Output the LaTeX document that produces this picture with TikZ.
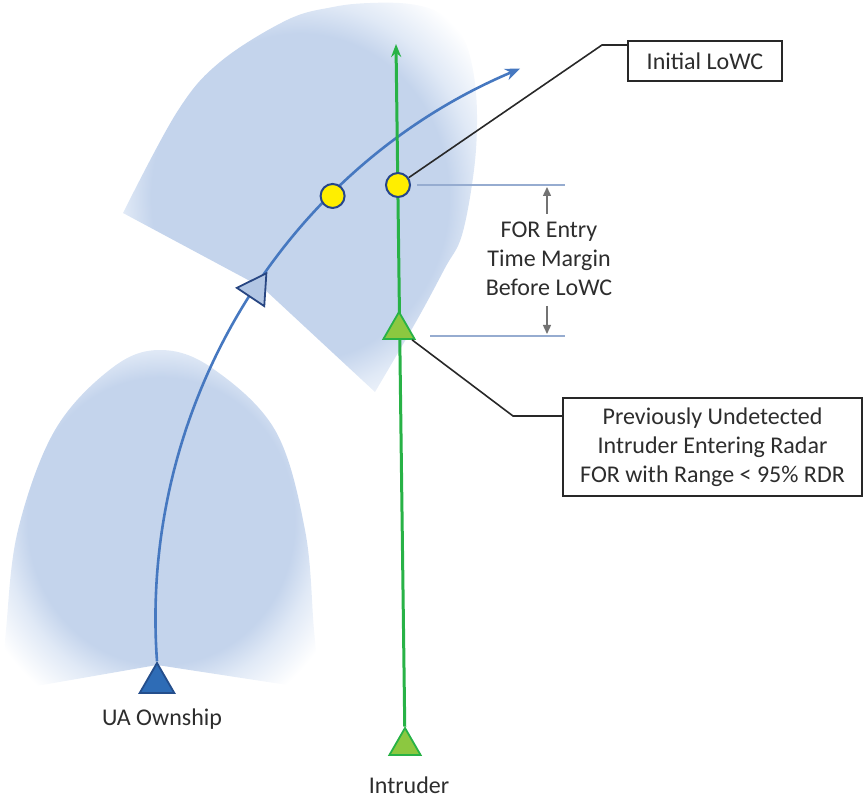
\documentclass[tikz,border=0pt]{standalone}
\usepackage{fontspec}
\setmainfont{Carlito}
\usetikzlibrary{shapes.geometric,arrows.meta,calc}
\definecolor{domein}{RGB}{196,212,236}
\definecolor{domeout}{RGB}{224,233,246}
\definecolor{trackblue}{RGB}{70,120,192}
\definecolor{owntrifill}{RGB}{46,108,182}
\definecolor{owntridraw}{RGB}{36,78,140}
\definecolor{hollowfill}{RGB}{178,198,228}
\definecolor{hollowdraw}{RGB}{40,70,130}
\definecolor{intgreen}{RGB}{40,178,70}
\definecolor{gtrifill}{RGB}{140,200,64}
\definecolor{ylw}{RGB}{255,238,0}
\definecolor{ylwdraw}{RGB}{38,70,140}
\definecolor{dimcol}{RGB}{150,172,208}
\definecolor{arrgray}{RGB}{115,115,115}
\definecolor{txt}{RGB}{45,45,45}
\definecolor{leadcol}{RGB}{40,40,40}
\pgfdeclareradialshading{domeshade}{\pgfpoint{0bp}{0bp}}{color(0bp)=(domein); color(21bp)=(domein); color(25bp)=(domeout); color(31bp)=(white); color(50bp)=(white)}
\pgfdeclarelayer{bgzero}
\pgfdeclarelayer{bgone}
\pgfsetlayers{bgzero,bgone,main}
\tikzset{
  tri/.style={regular polygon, regular polygon sides=3, inner sep=0pt, line width=1.8pt},
  ptc/.style={circle, minimum size=24pt, inner sep=0pt, fill=ylw, draw=ylwdraw, line width=2pt},
  lbl/.style={font=\fontsize{24}{29}\selectfont, text=txt, align=center},
  callout/.style={lbl, draw=leadcol, line width=2.2pt, fill=white},
  leaderline/.style={draw=leadcol, line width=1.6pt},
  dimline/.style={draw=dimcol, line width=1.6pt},
  dimarrow/.style={draw=arrgray, line width=1.4pt, -{Triangle[length=9pt,width=8pt]}},
  dome/.style={shading=domeshade},
}
\begin{document}
\begin{tikzpicture}[x=1pt,y=-1pt]
\useasboundingbox (0,0) rectangle (865,799);

% radar fields of regard
\begin{pgfonlayer}{bgzero}
  \shade[dome] (157,665) -- (2,692) -- plot[smooth, tension=0.6] coordinates {(2,692) (6,630) (18,530) (55,430) (112,368) (160,350) (212,368) (275,430) (305,530) (314,630) (320,690)} -- cycle;
  \shade[dome] (263,288) -- (123,213) -- plot[smooth, tension=0.6] coordinates {(123,213) (177,112) (220,62) (287,20) (333,7) (370,3) (410,4) (440,13) (462,35) (473,70) (477,115) (474,170) (462,235) (445,268) (417,320) (375,392)} -- cycle;
\end{pgfonlayer}

% markers
\coordinate (C) at (752.5,620.3);
\node[tri, minimum size=40pt, fill=owntrifill, draw=owntridraw] (own) at (157,683) {};
\node[tri, minimum size=38pt, fill=hollowfill, draw=hollowdraw, shape border rotate=-33.7] (mid) at ($(C)+(146.3:597pt)$) {};
\node[ptc] (p1) at ($(C)+(134.7:597pt)$) {};
\node[ptc] (p2) at (398,185) {};
\node[tri, minimum size=36pt, fill=gtrifill, draw=intgreen] (entry) at (399,330) {};
\node[tri, minimum size=36pt, fill=gtrifill, draw=intgreen] (intr) at (405,746) {};
\coordinate (gtop) at (396,44);

% tracks
\begin{pgfonlayer}{bgone}
  \draw[trackblue, line width=2.6pt, -{Stealth[length=15pt,width=12pt]}] (own.corner 1) arc[start angle=184.1, end angle=112.9, radius=597pt];
  \draw[intgreen, line width=3pt, -{Stealth[length=13pt,width=10pt]}] (intr) -- (gtop);
\end{pgfonlayer}

% labels
\node[lbl] (ownlbl) at (162,719) {UA Ownship};
\node[lbl] (intrlbl) at (409,785) {Intruder};
\node[lbl] (margin) at (549,259) {FOR Entry\\Time Margin\\Before LoWC};
\node[callout, minimum width=154pt, minimum height=40pt] (lowc) at (705,61) {Initial LoWC};
\node[callout, minimum width=299pt, minimum height=98pt] (ebox) at (712.5,447) {Previously Undetected\\Intruder Entering Radar\\FOR with Range < 95\% RDR};

% leaders
\coordinate (bendA) at (602,45);
\draw[leaderline] (p2) -- (bendA) -- (bendA -| lowc.west);
\coordinate (bendB) at (513,416);
\draw[leaderline] (entry) -- (bendB) -- (bendB -| ebox.west);

% time margin dimension
\coordinate (dimTop) at (565,185);
\coordinate (dimBotStart) at (430,336);
\coordinate (dimBot) at (565,336);
\draw[dimline] ([xshift=6pt]p2.east) -- (dimTop);
\draw[dimline] (dimBotStart) -- (dimBot);
\coordinate (mat) at (547,214);
\coordinate (matip) at (547,187);
\coordinate (mab) at (547,306);
\coordinate (mabtip) at (547,334);
\draw[dimarrow] (mat) -- (matip);
\draw[dimarrow] (mab) -- (mabtip);
\end{tikzpicture}
\end{document}
